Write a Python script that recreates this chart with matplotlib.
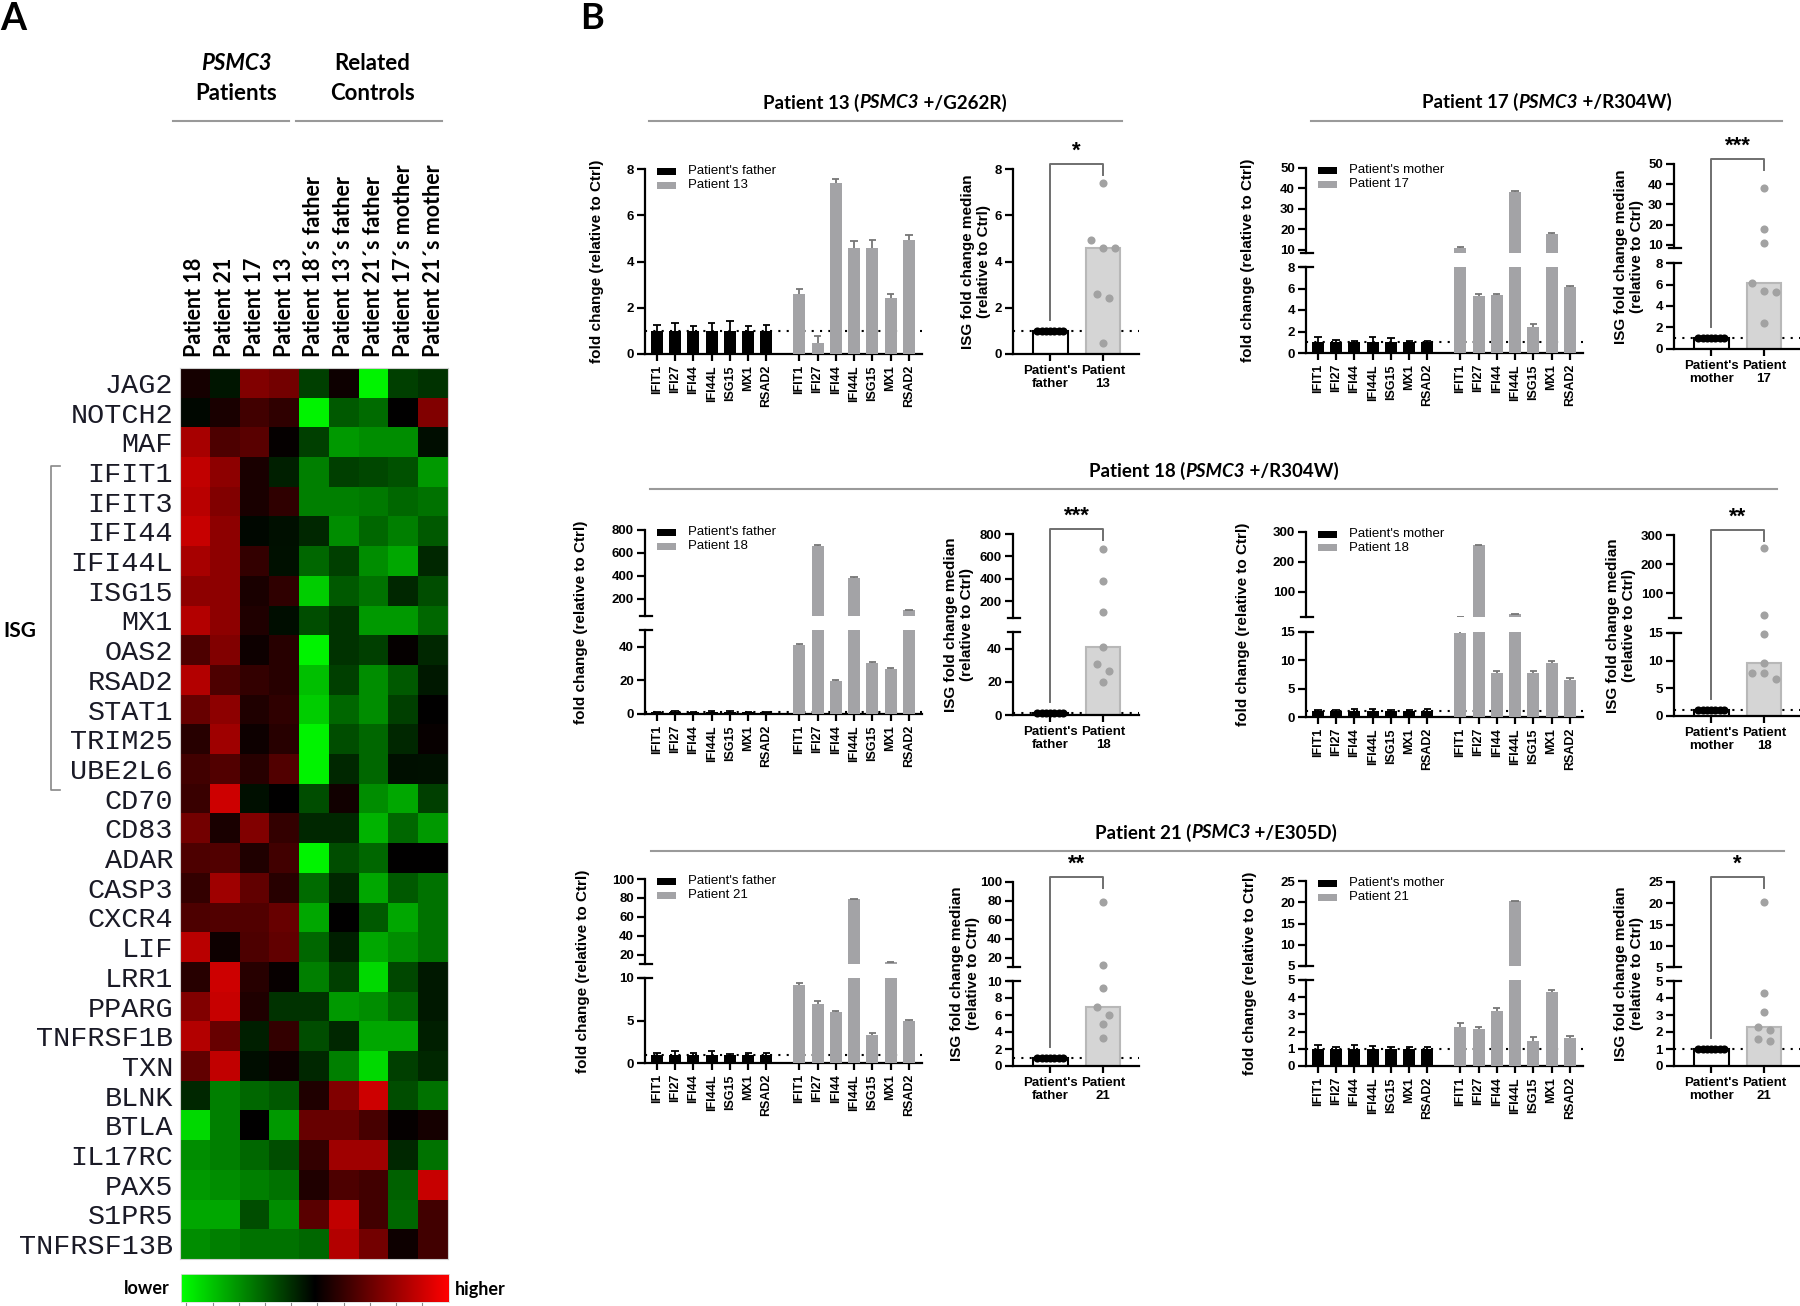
import numpy as np
import matplotlib
matplotlib.use("Agg")
import matplotlib.pyplot as plt
from matplotlib.colors import LinearSegmentedColormap
from matplotlib.lines import Line2D
from matplotlib.patches import Rectangle

plt.rcParams['font.family'] = ['Liberation Sans', 'DejaVu Sans']
plt.rcParams['font.weight'] = 'bold'

# ---------------- panel A data ----------------
heat_cols = ["Patient 18", "Patient 21", "Patient 17", "Patient 13",
             "Patient 18\u00b4s father", "Patient 13\u00b4s father",
             "Patient 21\u00b4s father", "Patient 17\u00b4s mother",
             "Patient 21\u00b4s mother"]
heat_genes = ["JAG2", "NOTCH2", "MAF", "IFIT1", "IFIT3", "IFI44", "IFI44L",
              "ISG15", "MX1", "OAS2", "RSAD2", "STAT1", "TRIM25", "UBE2L6",
              "CD70", "CD83", "ADAR", "CASP3", "CXCR4", "LIF", "LRR1", "PPARG",
              "TNFRSF1B", "TXN", "BLNK", "BTLA", "IL17RC", "PAX5", "S1PR5",
              "TNFRSF13B"]
heat_vals = np.array([
    [0.08, -0.08, 0.50, 0.45, -0.25, 0.05, -0.95, -0.25, -0.20],
    [-0.03, 0.10, 0.25, 0.18, -0.95, -0.35, -0.42, 0.00, 0.50],
    [0.65, 0.30, 0.35, 0.02, -0.25, -0.60, -0.55, -0.55, -0.05],
    [0.75, 0.55, 0.10, -0.12, -0.50, -0.25, -0.28, -0.32, -0.60],
    [0.72, 0.50, 0.10, 0.18, -0.50, -0.50, -0.47, -0.40, -0.45],
    [0.78, 0.55, -0.03, -0.06, -0.15, -0.55, -0.40, -0.50, -0.35],
    [0.65, 0.55, 0.20, -0.07, -0.40, -0.25, -0.55, -0.65, -0.15],
    [0.55, 0.55, 0.10, 0.18, -0.80, -0.35, -0.45, -0.15, -0.30],
    [0.70, 0.55, 0.12, -0.05, -0.30, -0.20, -0.60, -0.60, -0.40],
    [0.30, 0.50, 0.05, 0.15, -0.95, -0.20, -0.25, 0.02, -0.15],
    [0.70, 0.30, 0.20, 0.15, -0.75, -0.25, -0.55, -0.35, -0.10],
    [0.40, 0.55, 0.12, 0.18, -0.80, -0.40, -0.55, -0.25, 0.00],
    [0.15, 0.62, 0.05, 0.15, -0.95, -0.30, -0.40, -0.15, 0.03],
    [0.25, 0.32, 0.15, 0.32, -0.95, -0.15, -0.40, -0.06, -0.07],
    [0.22, 0.80, -0.06, 0.00, -0.30, 0.07, -0.55, -0.65, -0.25],
    [0.45, 0.10, 0.50, 0.20, -0.15, -0.15, -0.70, -0.40, -0.60],
    [0.30, 0.32, 0.12, 0.25, -0.95, -0.30, -0.40, 0.00, 0.00],
    [0.20, 0.62, 0.38, 0.15, -0.42, -0.15, -0.65, -0.35, -0.45],
    [0.30, 0.32, 0.32, 0.40, -0.65, 0.00, -0.35, -0.65, -0.45],
    [0.72, 0.05, 0.30, 0.38, -0.40, -0.12, -0.65, -0.55, -0.45],
    [0.15, 0.80, 0.15, 0.03, -0.50, -0.25, -0.85, -0.28, -0.10],
    [0.50, 0.78, 0.12, -0.20, -0.20, -0.60, -0.55, -0.40, -0.10],
    [0.70, 0.40, -0.12, 0.20, -0.30, -0.15, -0.65, -0.65, -0.12],
    [0.38, 0.75, -0.05, 0.05, -0.15, -0.50, -0.85, -0.25, -0.15],
    [-0.15, -0.50, -0.40, -0.35, 0.12, 0.50, 0.80, -0.30, -0.45],
    [-0.85, -0.50, 0.00, -0.60, 0.40, 0.40, 0.28, 0.02, 0.08],
    [-0.55, -0.50, -0.40, -0.30, 0.20, 0.62, 0.62, -0.15, -0.45],
    [-0.60, -0.55, -0.50, -0.45, 0.12, 0.30, 0.25, -0.38, 0.78],
    [-0.65, -0.65, -0.30, -0.55, 0.35, 0.75, 0.25, -0.40, 0.25],
    [-0.55, -0.50, -0.45, -0.45, -0.40, 0.70, 0.45, 0.05, 0.25],
])
isg_first, isg_last = "IFIT1", "UBE2L6"

# ---------------- panel B data ----------------
genes = ["IFIT1", "IFI27", "IFI44", "IFI44L", "ISG15", "MX1", "RSAD2"]
ctrl_norm = [1.0, 1.0, 1.0, 1.0, 1.0, 1.0, 1.0]

p13_ctrl_err = [0.25, 0.32, 0.20, 0.35, 0.42, 0.20, 0.25]
p13_pat = [2.60, 0.46, 7.38, 4.60, 4.60, 2.43, 4.95]
p13_pat_err = [0.20, 0.32, 0.20, 0.30, 0.32, 0.18, 0.20]

p17_ctrl_err = [0.45, 0.25, 0.15, 0.45, 0.40, 0.15, 0.12]
p17_pat = [11.0, 5.27, 5.36, 38.2, 2.42, 17.8, 6.15]
p17_pat_err = [0.6, 0.20, 0.12, 0.4, 0.30, 0.3, 0.10]

p18f_ctrl_err = [0.4, 0.6, 0.3, 0.8, 0.5, 0.4, 0.3]
p18f_pat = [41.0, 662.0, 19.9, 383.0, 30.5, 26.6, 103.0]
p18f_pat_err = [0.6, 4.0, 0.4, 3.0, 0.5, 0.5, 2.0]

p18m_ctrl_err = [0.30, 0.25, 0.35, 0.40, 0.30, 0.30, 0.35]
p18m_pat = [14.8, 255.0, 7.8, 25.0, 7.8, 9.5, 6.6]
p18m_pat_err = [0.3, 1.5, 0.4, 1.5, 0.4, 0.3, 0.3]

p21f_ctrl_err = [0.15, 0.40, 0.15, 0.40, 0.10, 0.20, 0.15]
p21f_pat = [9.2, 7.0, 6.0, 78.5, 3.3, 11.8, 4.94]
p21f_pat_err = [0.2, 0.3, 0.15, 0.4, 0.2, 0.3, 0.15]

p21m_ctrl_err = [0.20, 0.12, 0.20, 0.15, 0.10, 0.10, 0.10]
p21m_pat = [2.28, 2.13, 3.17, 20.3, 1.47, 4.28, 1.60]
p21m_pat_err = [0.20, 0.15, 0.18, 0.10, 0.20, 0.12, 0.12]

W, H = 1800, 1306
fig = plt.figure(figsize=(18, 13.06), dpi=100)
renderer = fig.canvas.get_renderer()

GRAY = '#a3a3a6'
TITLE_FONT = ['Lato', 'DejaVu Sans']


def fx(x):
    return x / W


def fy(y):
    return 1 - y / H


def box(x0, y0, x1, y1):
    return [x0 / W, 1 - y1 / H, (x1 - x0) / W, (y1 - y0) / H]


def fig_line(xs, ys, **kw):
    fig.add_artist(Line2D([fx(x) for x in xs], [fy(y) for y in ys], **kw))


def mixed_text(cx, cy, parts, size):
    items, total = [], 0
    for s, style in parts:
        t = fig.text(0, 0, s, fontsize=size, fontweight='bold', fontstyle=style,
                     family=TITLE_FONT, va='center', ha='left')
        w = t.get_window_extent(renderer).width
        items.append((t, w))
        total += w
    x = cx - total / 2
    for t, w in items:
        t.set_position((fx(x), fy(cy)))
        x += w


# ================= Panel A =================
fig.text(fx(0), fy(2), "A", fontsize=27, fontweight='bold', family=TITLE_FONT,
         ha='left', va='top')
hx0, hy0, hx1, hy1 = 180, 368, 448, 1259
cmap = LinearSegmentedColormap.from_list('gkr', ['#00ff00', '#000000', '#ff0000'])
axh = fig.add_axes(box(hx0, hy0, hx1, hy1))
axh.imshow(heat_vals, cmap=cmap, vmin=-1, vmax=1, aspect='auto', interpolation='nearest')
axh.xaxis.tick_top()
axh.set_xticks(range(len(heat_cols)))
axh.set_xticklabels(heat_cols, rotation=90, fontsize=15.5, family=TITLE_FONT, fontweight='bold')
axh.set_yticks(range(len(heat_genes)))
axh.set_yticklabels(heat_genes, fontsize=20.5, family=['Liberation Mono', 'DejaVu Sans Mono'],
                    fontweight='normal', color='#1a1a26')
axh.tick_params(axis='both', length=0)
axh.tick_params(axis='x', pad=8)
axh.tick_params(axis='y', pad=5)
for s in axh.spines.values():
    s.set_color('#cfcfcf')
    s.set_linewidth(0.8)

# group headers above heatmap
col_w = (hx1 - hx0) / len(heat_cols)
pat_c = hx0 + 2 * col_w
ctl_c = hx0 + 6.5 * col_w
fig.text(fx(pat_c - 3), fy(63), "PSMC3", fontsize=16, fontweight='bold', fontstyle='italic',
         family=TITLE_FONT, ha='center', va='center')
fig.text(fx(pat_c - 3), fy(93), "Patients", fontsize=16, fontweight='bold',
         family=TITLE_FONT, ha='center', va='center')
fig.text(fx(ctl_c - 1), fy(63), "Related", fontsize=16, fontweight='bold',
         family=TITLE_FONT, ha='center', va='center')
fig.text(fx(ctl_c - 1), fy(93), "Controls", fontsize=16, fontweight='bold',
         family=TITLE_FONT, ha='center', va='center')
fig_line([173, 289], [121, 121], color='#999999', lw=1.5)
fig_line([296, 442], [121, 121], color='#999999', lw=1.5)

# ISG bracket
row_h = (hy1 - hy0) / len(heat_genes)
b_top = hy0 + heat_genes.index(isg_first) * row_h + 9
b_bot = hy0 + (heat_genes.index(isg_last) + 1) * row_h + 6
fig_line([60, 51, 51, 60], [b_top, b_top, b_bot, b_bot], color='#888888', lw=1.2)
fig.text(fx(3), fy((b_top + b_bot) / 2 + 3), "ISG", fontsize=15, fontweight='bold',
         family=TITLE_FONT, ha='left', va='center')

# colour bar
axc = fig.add_axes(box(181, 1274, 449, 1302))
axc.imshow(np.linspace(-1, 1, 256)[None, :], cmap=cmap, aspect='auto', extent=(0, 1, 0, 1))
axc.set_yticks([])
axc.set_xticks(np.linspace(0.02, 0.9, 10))
axc.set_xticklabels([])
axc.tick_params(axis='x', length=3, width=0.8, color='#888888')
for s in axc.spines.values():
    s.set_color('#dddddd')
    s.set_linewidth(0.6)
fig.text(fx(170), fy(1289), "lower", fontsize=13, fontweight='bold', family=TITLE_FONT,
         ha='right', va='center')
fig.text(fx(455), fy(1289), "higher", fontsize=13, fontweight='bold', family=TITLE_FONT,
         ha='left', va='center')

# ================= Panel B =================
fig.text(fx(580), fy(2), "B", fontsize=26, fontweight='bold', family=TITLE_FONT,
         ha='left', va='top')

BAR_XLIM = (-0.65, 14.52)
BAR_W = 277
MED_XLIM = (-0.7, 1.68)
MED_W = 126
xc = np.arange(len(genes))
xp = np.arange(len(genes)) + 7.8

groups = [
    dict(ctrl=ctrl_norm, ctrl_err=p13_ctrl_err, pat=p13_pat, pat_err=p13_pat_err,
         cname="Patient's father", pname="Patient 13", mlabels=["Patient's\nfather", "Patient\n13"],
         sig="*", bx=645, mx=1013, lab_dx=48, mlab_dx=37,
         bsegs=[(169, 354, 0, 8, [0, 2, 4, 6, 8])],
         msegs=[(169, 354, 0, 8, [0, 2, 4, 6, 8])]),
    dict(ctrl=ctrl_norm, ctrl_err=p17_ctrl_err, pat=p17_pat, pat_err=p17_pat_err,
         cname="Patient's mother", pname="Patient 17", mlabels=["Patient's\nmother", "Patient\n17"],
         sig="***", bx=1306, mx=1674, lab_dx=58, mlab_dx=45,
         bsegs=[(168, 253, 8.5, 50, [10, 20, 30, 40, 50]), (267, 353, 0, 8, [0, 2, 4, 6, 8])],
         msegs=[(164, 248, 8.5, 50, [10, 20, 30, 40, 50]), (263, 349, 0, 8, [0, 2, 4, 6, 8])]),
    dict(ctrl=ctrl_norm, ctrl_err=p18f_ctrl_err, pat=p18f_pat, pat_err=p18f_pat_err,
         cname="Patient's father", pname="Patient 18", mlabels=["Patient's\nfather", "Patient\n18"],
         sig="***", bx=645, mx=1013, lab_dx=64, mlab_dx=54,
         bsegs=[(530, 616, 50, 800, [200, 400, 600, 800]), (630, 714, 0, 50, [0, 20, 40])],
         msegs=[(534, 618, 50, 800, [200, 400, 600, 800]), (632, 715, 0, 50, [0, 20, 40])]),
    dict(ctrl=ctrl_norm, ctrl_err=p18m_ctrl_err, pat=p18m_pat, pat_err=p18m_pat_err,
         cname="Patient's mother", pname="Patient 18", mlabels=["Patient's\nmother", "Patient\n18"],
         sig="**", bx=1306, mx=1674, lab_dx=63, mlab_dx=53,
         bsegs=[(532, 617, 15, 300, [100, 200, 300]), (632, 717, 0, 15, [0, 5, 10, 15])],
         msegs=[(535, 618, 15, 300, [100, 200, 300]), (633, 716, 0, 15, [0, 5, 10, 15])]),
    dict(ctrl=ctrl_norm, ctrl_err=p21f_ctrl_err, pat=p21f_pat, pat_err=p21f_pat_err,
         cname="Patient's father", pname="Patient 21", mlabels=["Patient's\nfather", "Patient\n21"],
         sig="**", bx=645, mx=1013, lab_dx=62, mlab_dx=48,
         bsegs=[(879, 964, 10, 100, [20, 40, 60, 80, 100]), (978, 1063, 0, 10, [0, 5, 10])],
         msegs=[(882, 967, 10, 100, [20, 40, 60, 80, 100]), (981, 1066, 0, 10, [0, 2, 4, 6, 8, 10])]),
    dict(ctrl=ctrl_norm, ctrl_err=p21m_ctrl_err, pat=p21m_pat, pat_err=p21m_pat_err,
         cname="Patient's mother", pname="Patient 21", mlabels=["Patient's\nmother", "Patient\n21"],
         sig="*", bx=1306, mx=1674, lab_dx=56, mlab_dx=45,
         bsegs=[(881, 966, 5, 25, [5, 10, 15, 20, 25]), (980, 1066, 0, 5, [0, 1, 2, 3, 4, 5])],
         msegs=[(882, 967, 5, 25, [5, 10, 15, 20, 25]), (981, 1066, 0, 5, [0, 1, 2, 3, 4, 5])]),
]

titles = [
    ([("Patient 13 (", 'normal'), ("PSMC3", 'italic'), (" +/G262R)", 'normal')], 885, 103, 649, 1122, 121),
    ([("Patient 17 (", 'normal'), ("PSMC3", 'italic'), (" +/R304W)", 'normal')], 1547, 102, 1311, 1782, 121),
    ([("Patient 18 (", 'normal'), ("PSMC3", 'italic'), (" +/R304W)", 'normal')], 1214, 471, 650, 1777, 489),
    ([("Patient 21 (", 'normal'), ("PSMC3", 'italic'), (" +/E305D)", 'normal')], 1216, 833, 651, 1784, 851),
]
for parts, cx, cy, lx0, lx1, ly in titles:
    mixed_text(cx, cy, parts, 13.5)
    fig_line([lx0, lx1], [ly, ly], color='#9a9a9a', lw=1.5)


def make_axes(x0, width, segs, xlim):
    axes = []
    for i, (yt, yb, lo, hi, ticks) in enumerate(segs):
        ax = fig.add_axes(box(x0, yt, x0 + width, yb))
        ax.set_xlim(xlim)
        ax.set_ylim(lo, hi)
        ax.set_yticks(ticks)
        ax.patch.set_alpha(0)
        for s in ['top', 'right']:
            ax.spines[s].set_visible(False)
        for s in ['left', 'bottom']:
            ax.spines[s].set_linewidth(1.6)
        ax.tick_params(axis='y', length=6, width=1.6, labelsize=9.5, pad=2)
        last = i == len(segs) - 1
        if not last:
            ax.spines['bottom'].set_visible(False)
            ax.tick_params(axis='x', bottom=False, labelbottom=False)
            fig_line([x0 - 5, x0 + 7], [yb, yb], color='black', lw=1.6)
        if i > 0:
            fig_line([x0 - 5, x0 + 7], [yt, yt], color='black', lw=1.6)
        axes.append(ax)
    return axes


def val_px(v, segs):
    for yt, yb, lo, hi, _ in reversed(segs):
        if v <= hi:
            return yb - (max(v, lo) - lo) / (hi - lo) * (yb - yt)
    yt, yb, lo, hi, _ = segs[0]
    return yb - (v - lo) / (hi - lo) * (yb - yt)


def x_px(x, x0, width, xlim):
    return x0 + (x - xlim[0]) / (xlim[1] - xlim[0]) * width


def swarm(vals, segs, step=0.22, thr=8.8):
    order = np.argsort(vals)[::-1]
    offs = np.zeros(len(vals))
    bins, cur, prev = [], [], None
    for k in order:
        p = val_px(vals[k], segs)
        if prev is not None and abs(p - prev) > thr:
            bins.append(cur)
            cur = []
        cur.append(k)
        prev = p
    bins.append(cur)
    for b in bins:
        n = len(b)
        for j, k in enumerate(b):
            offs[k] = (j - (n - 1) / 2) * step
    return offs


for g in groups:
    # ---- bar chart ----
    baxes = make_axes(g['bx'], BAR_W, g['bsegs'], BAR_XLIM)
    for ax in baxes:
        lo = ax.get_ylim()[0]
        for xs, ys, es, col, ecol in [(xc, g['ctrl'], g['ctrl_err'], 'black', 'black'),
                                      (xp, g['pat'], g['pat_err'], GRAY, '#767676')]:
            ys = np.asarray(ys)
            es = np.asarray(es)
            keep = ys + es > lo
            if not keep.any():
                continue
            ax.bar(xs[keep], ys[keep], width=0.66, color=col, zorder=3)
            ax.vlines(xs[keep], ys[keep], ys[keep] + es[keep], color=ecol, lw=1.3, zorder=4)
            ax.hlines(ys[keep] + es[keep], xs[keep] - 0.2, xs[keep] + 0.2, color=ecol,
                      lw=1.3, zorder=4)
        if lo < 1:
            ax.axhline(1, color='black', ls=(0, (1, 3)), lw=1.5, zorder=2)
    bot = baxes[-1]
    bot.set_xticks(np.concatenate([xc, xp]))
    bot.set_xticklabels(genes + genes, rotation=90, fontsize=9)
    bot.tick_params(axis='x', length=5, width=1.6, pad=3)
    bt = g['bsegs'][0][0]
    bb = g['bsegs'][-1][1]
    fig.text(fx(g['bx'] - g['lab_dx']), fy((bt + bb) / 2), "fold change (relative to Ctrl)",
             rotation=90, fontsize=11, ha='center', va='center')
    # legend
    for k, (name, col) in enumerate([(g['cname'], 'black'), (g['pname'], GRAY)]):
        ry = bt + 2 + 14 * k
        fig.add_artist(Rectangle((fx(g['bx'] + 12), fy(ry + 3.5)), 19 / W, 7 / H,
                                 facecolor=col, edgecolor='none'))
        fig.text(fx(g['bx'] + 43), fy(ry), name, fontsize=9.5, fontweight='normal',
                 ha='left', va='center')

    # ---- median chart ----
    maxes = make_axes(g['mx'], MED_W, g['msegs'], MED_XLIM)
    pat = np.asarray(g['pat'])
    ctrl = np.asarray(g['ctrl'])
    offs = swarm(pat, g['msegs'])
    for ax in maxes:
        lo, hi = ax.get_ylim()
        if np.median(ctrl) > lo:
            ax.bar(0, np.median(ctrl), width=0.66, facecolor='white', edgecolor='black',
                   lw=1.5, zorder=2)
            ax.axhline(1, color='black', ls=(0, (1, 3)), lw=1.5, zorder=1)
            ax.scatter(np.linspace(-0.24, 0.24, len(ctrl)), ctrl, s=34, color='black',
                       zorder=4, linewidths=0, clip_on=False)
        if np.median(pat) > lo:
            ax.bar(1, np.median(pat), width=0.66, facecolor='#d5d5d5', edgecolor='#b8b8b8',
                   lw=1.5, zorder=2)
        show = (pat > lo) & (pat <= hi)
        ax.scatter(1 + offs[show], pat[show], s=34, color='#a2a2a2', zorder=4,
                   linewidths=0, clip_on=False)
    mb = maxes[-1]
    mb.set_xticks([0, 1])
    mb.set_xticklabels(g['mlabels'], fontsize=9.5, linespacing=1.15)
    mb.tick_params(axis='x', length=5, width=1.6, pad=3)
    mt = g['msegs'][0][0]
    mbt = g['msegs'][-1][1]
    fig.text(fx(g['mx'] - g['mlab_dx']), fy((mt + mbt) / 2),
             "ISG fold change median\n(relative to Ctrl)", rotation=90, fontsize=11,
             ha='center', va='center', linespacing=1.2)
    # significance bracket
    xf = x_px(0, g['mx'], MED_W, MED_XLIM)
    xq = x_px(1, g['mx'], MED_W, MED_XLIM)
    ytop = mt - 5
    yleft = val_px(1, g['msegs']) - 11
    fig_line([xf, xf, xq, xq], [yleft, ytop, ytop, ytop + 11], color='#6f6f6f', lw=1.4)
    fig.text(fx((xf + xq) / 2), fy(ytop - 2), g['sig'], fontsize=16, ha='center',
             va='bottom')

fig.savefig("out.png", dpi=100)
